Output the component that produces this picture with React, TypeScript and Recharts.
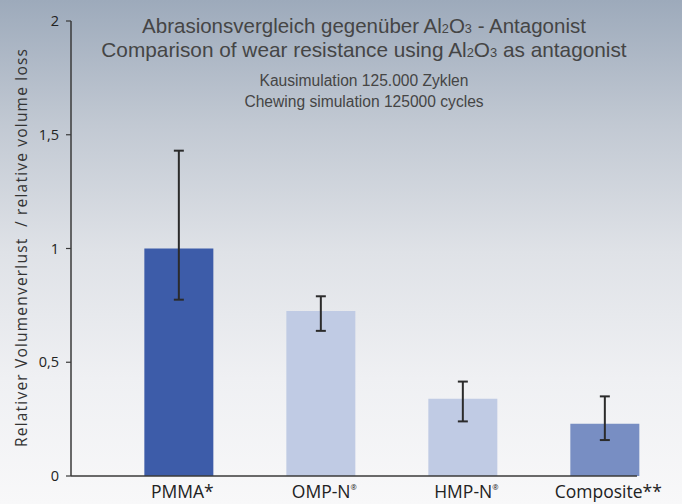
import { BarChart, Bar, XAxis, YAxis, ErrorBar, Cell } from 'recharts';

const categories = ['PMMA*', 'OMP-N®', 'HMP-N®', 'Composite**'];
const values = [1.0, 0.725, 0.34, 0.23];
const errorLow = [0.225, 0.087, 0.1, 0.072];
const errorHigh = [0.43, 0.065, 0.075, 0.12];
const barColors = ['#3d5ca9', '#c0cbe4', '#c0cbe4', '#788ec3'];
const yTicks = [0, 0.5, 1, 1.5, 2];

const data = categories.map((name, i) => ({
  idx: i,
  name,
  value: values[i],
  err: [errorLow[i], errorHigh[i]],
}));

const XTick = ({ x, y, payload }: any) => {
  const label: string = categories[payload.value] ?? '';
  const hasReg = label.endsWith('®');
  const base = hasReg ? label.slice(0, -1) : label;
  return (
    <text x={x + 3} y={y + 22} textAnchor="middle" fontFamily="'Open Sans', sans-serif" fontSize={17.5} fill="#222">
      {base}
      {hasReg && (
        <tspan fontSize={7.5} dy={-8}>®</tspan>
      )}
    </text>
  );
};

const Sub = ({ children }: { children: string }) => (
  <span style={{ fontSize: '0.62em' }}>{children}</span>
);

export default function App() {
  return (
    <div
      style={{
        position: 'absolute',
        left: 0,
        top: 0,
        width: 682,
        height: 504,
        background: 'linear-gradient(to bottom, #9daabb 0%, #c2c9d3 25%, #dfe2e7 50%, #eff0f3 75%, #f8f8f9 100%)',
        overflow: 'hidden',
      }}
    >
      <BarChart width={682} height={504} data={data} margin={{ top: 21, right: 45, bottom: 0, left: 0 }}>
        <XAxis
          dataKey="idx"
          type="number"
          domain={[-0.763, 3.223]}
          ticks={[0, 1, 2, 3]}
          height={28}
          tickSize={0}
          tickMargin={0}
          tickLine={false}
          axisLine={{ stroke: '#3a3a3a', strokeWidth: 1.5 }}
          tick={<XTick />}
        />
        <YAxis
          domain={[0, 2]}
          ticks={yTicks}
          width={71}
          tickSize={5}
          tickMargin={7}
          tickFormatter={(v: number) => String(v).replace('.', ',')}
          axisLine={{ stroke: '#3a3a3a', strokeWidth: 1.5 }}
          tickLine={{ stroke: '#3a3a3a', strokeWidth: 1.2 }}
          tick={{ fill: '#222', fontSize: 14.5, fontFamily: "'Open Sans', sans-serif" }}
        />
        <Bar dataKey="value" barSize={69} isAnimationActive={false}>
          {data.map((_, i) => (
            <Cell key={i} fill={barColors[i]} />
          ))}
          <ErrorBar dataKey="err" width={5} stroke="#2b2b2b" strokeWidth={2} isAnimationActive={false} />
        </Bar>
      </BarChart>

      <div
        style={{
          position: 'absolute',
          left: 0,
          top: 0,
          width: 728,
          textAlign: 'center',
          fontFamily: "'Liberation Sans Narrow', 'Liberation Sans', sans-serif",
          color: '#454545',
          pointerEvents: 'none',
        }}
      >
        <div style={{ position: 'absolute', top: 14, width: '100%', fontSize: 20.5, lineHeight: '24px' }}>
          Abrasionsvergleich gegenüber Al<Sub>2</Sub>O<Sub>3</Sub> - Antagonist
        </div>
        <div style={{ position: 'absolute', top: 38, width: '100%', fontSize: 20.8, lineHeight: '24px' }}>
          Comparison of wear resistance using Al<Sub>2</Sub>O<Sub>3</Sub> as antagonist
        </div>
        <div style={{ position: 'absolute', top: 71, width: '100%', fontSize: 15.6, lineHeight: '20px' }}>
          Kausimulation 125.000 Zyklen
        </div>
        <div style={{ position: 'absolute', top: 92, width: '100%', fontSize: 15.6, lineHeight: '20px' }}>
          Chewing simulation 125000 cycles
        </div>
      </div>

      <svg width={682} height={504} style={{ position: 'absolute', left: 0, top: 0, pointerEvents: 'none' }}>
        <text
          x={21}
          y={447}
          transform="rotate(-90 21 447)"
          dominantBaseline="central"
          fontFamily="'Open Sans', sans-serif"
          fontSize={15.5}
          letterSpacing={1.2}
          fill="#333"
          style={{ whiteSpace: 'pre' }}
        >
          {'Relativer Volumenverlust  / relative volume loss'}
        </text>
      </svg>
    </div>
  );
}
